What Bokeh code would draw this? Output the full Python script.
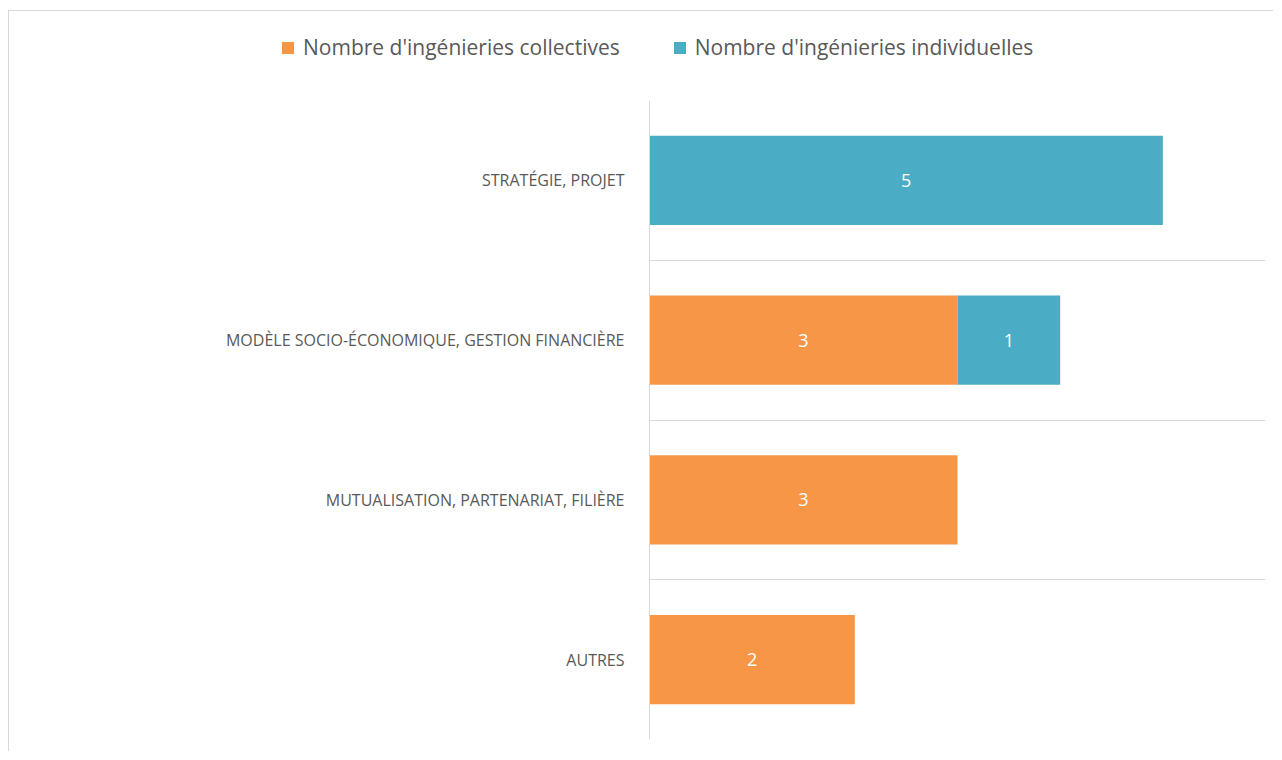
from bokeh.plotting import figure
from bokeh.layouts import column
from bokeh.models import ColumnDataSource, FactorRange, Range1d, FixedTicker, Legend, LegendItem
from bokeh.core.properties import value
from bokeh.embed import file_html
from bokeh.resources import INLINE

categories = ["AUTRES", "MUTUALISATION, PARTENARIAT, FILIÈRE",
              "MODÈLE SOCIO-ÉCONOMIQUE, GESTION FINANCIÈRE", "STRATÉGIE, PROJET"]
collectives = [2, 3, 3, 0]
individuelles = [0, 0, 1, 5]
series_names = ["Nombre d'ingénieries collectives", "Nombre d'ingénieries individuelles"]

ORANGE = "#F79646"
BLUE = "#4BACC6"
GRID = "#D9D9D9"
TEXT = "#595959"
FONT = "Open Sans"

source = ColumnDataSource(dict(cat=categories, coll=collectives, ind=individuelles))

# main chart
p = figure(width=1264, height=651, output_backend="svg", toolbar_location=None,
           y_range=FactorRange(factors=categories, range_padding=0),
           x_range=Range1d(0, 6),
           min_border_left=640, min_border_right=8, min_border_top=0, min_border_bottom=12)
p.outline_line_color = None
p.background_fill_color = "white"
p.frame_align = False

renderers = p.hbar_stack(["coll", "ind"], y="cat", height=0.56, color=[ORANGE, BLUE],
                         line_color=None, source=source)

# data labels
lx, ly, lt = [], [], []
for c, a, b in zip(categories, collectives, individuelles):
    if a:
        lx.append(a / 2); ly.append(c); lt.append(str(a))
    if b:
        lx.append(a + b / 2); ly.append(c); lt.append(str(b))
p.text(x=lx, y=ly, text=lt, text_color="white", text_font=value(FONT),
       text_font_size="18px", text_align="center", text_baseline="middle")

p.xaxis.visible = False
p.xgrid.visible = False
yax = p.yaxis[0]
yax.axis_line_color = GRID
yax.axis_line_width = 1
yax.major_tick_line_color = None
yax.minor_tick_line_color = None
yax.major_label_standoff = 19
yax.major_label_text_font = FONT
yax.major_label_text_font_size = "16px"
yax.major_label_text_color = TEXT
p.ygrid[0].ticker = FixedTicker(ticks=[0, 1, 2, 3, 4])
p.ygrid[0].grid_line_color = GRID
p.ygrid[0].grid_line_width = 1

# legend strip above the chart (same series, hidden renderers feed the legend)
top = figure(width=1264, height=89, output_backend="svg", toolbar_location=None,
             x_range=Range1d(0, 6), y_range=FactorRange(factors=categories),
             min_border_left=0, min_border_right=0, min_border_top=0, min_border_bottom=0)
top.frame_align = False
top.outline_line_color = None
top.axis.visible = False
top.grid.visible = False
leg_r = top.hbar_stack(["coll", "ind"], y="cat", height=0.56, color=[ORANGE, BLUE],
                       line_color=None, source=source)
for r in leg_r:
    r.visible = False
legend = Legend(items=[LegendItem(label=series_names[0], renderers=[leg_r[0]]),
                       LegendItem(label=series_names[1], renderers=[leg_r[1]])],
                orientation="horizontal", location=(271, 39),
                glyph_width=15, glyph_height=15, label_standoff=8, spacing=52,
                padding=0, margin=0, border_line_color=None, background_fill_alpha=0,
                inactive_fill_alpha=0,
                label_text_font=FONT, label_text_font_size="21px", label_text_color=TEXT,
                label_height=21)
top.add_layout(legend, "center")

layout = column(top, p, spacing=0,
                styles={"border-left": "1px solid #D9D9D9", "border-top": "1px solid #D9D9D9",
                        "margin-left": "8px", "margin-top": "10px"})

open("out.html", "w").write(file_html(layout, INLINE))
